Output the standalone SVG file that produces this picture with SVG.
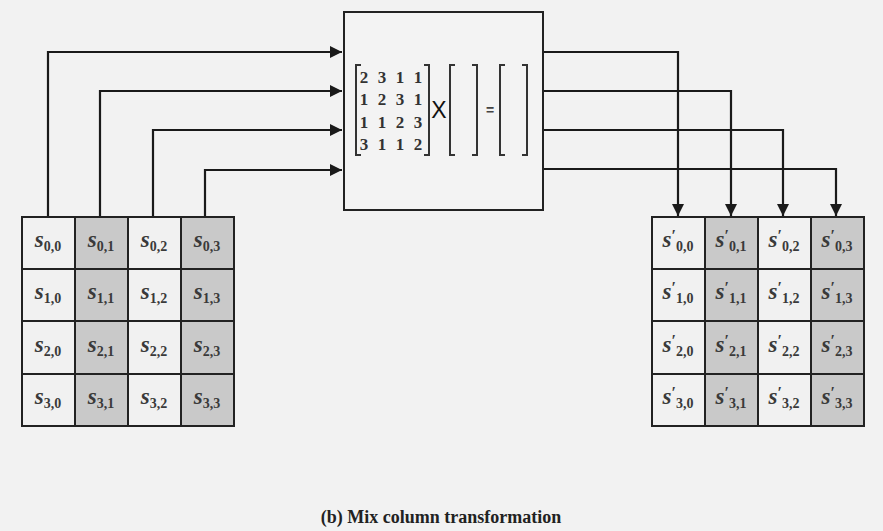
<svg xmlns="http://www.w3.org/2000/svg" width="883" height="531" viewBox="0 0 883 531">
<style>
.cw{fill:#f1f1f1;stroke:#222;stroke-width:2}
.cg{fill:#c9c9c9;stroke:#222;stroke-width:2}
.t{font-family:"Liberation Serif",serif;font-size:23px;font-weight:bold;fill:#3a3a3a;text-anchor:middle}
.s{font-style:italic}
.sub{font-size:14px;font-style:normal}
.pr{font-size:16px;font-style:normal}
.con{fill:none;stroke:#1a1a1a;stroke-width:2.2}
.num{font-family:"Liberation Serif",serif;font-size:17px;font-weight:bold;fill:#333;text-anchor:middle}
.br{fill:none;stroke:#333;stroke-width:2}
</style>
<defs>
<marker id="ah" viewBox="0 0 10 10" refX="10" refY="5" markerWidth="12" markerHeight="12" markerUnits="userSpaceOnUse" orient="auto">
<path d="M0,0 L10,5 L0,10 Z" fill="#1a1a1a"/>
</marker>
</defs>
<rect width="883" height="531" fill="#f2f2f2"/>

<g id="connectors">
<path class="con" d="M48,217 V52 H342" marker-end="url(#ah)"/>
<path class="con" d="M100,217 V91 H342" marker-end="url(#ah)"/>
<path class="con" d="M153,217 V130 H342" marker-end="url(#ah)"/>
<path class="con" d="M205,217 V170 H342" marker-end="url(#ah)"/>
<path class="con" d="M544,52 H678 V216" marker-end="url(#ah)"/>
<path class="con" d="M544,91 H731 V216" marker-end="url(#ah)"/>
<path class="con" d="M544,130 H783 V216" marker-end="url(#ah)"/>
<path class="con" d="M544,169 H836 V216" marker-end="url(#ah)"/>
</g>

<g id="mix-box">
<rect x="344" y="12" width="199" height="198" fill="#f3f3f3" stroke="#222" stroke-width="2"/>
<path class="br" d="M361,65 H356 V155 H361"/>
<path class="br" d="M424,65 H429 V155 H424"/>
<g>
<text class="num" x="364" y="83">2</text><text class="num" x="382" y="83">3</text><text class="num" x="400" y="83">1</text><text class="num" x="418" y="83">1</text>
<text class="num" x="364" y="105">1</text><text class="num" x="382" y="105">2</text><text class="num" x="400" y="105">3</text><text class="num" x="418" y="105">1</text>
<text class="num" x="364" y="128">1</text><text class="num" x="382" y="128">1</text><text class="num" x="400" y="128">2</text><text class="num" x="418" y="128">3</text>
<text class="num" x="364" y="150">3</text><text class="num" x="382" y="150">1</text><text class="num" x="400" y="150">1</text><text class="num" x="418" y="150">2</text>
</g>
<text x="439" y="118" font-family="Liberation Sans,sans-serif" font-size="23" fill="#111" text-anchor="middle">X</text>
<path class="br" d="M455,65 H450 V155 H455"/>
<path class="br" d="M472,65 H477 V155 H472"/>
<text x="490" y="115" font-family="Liberation Sans,sans-serif" font-size="14" font-weight="bold" fill="#444" text-anchor="middle">=</text>
<path class="br" d="M505,65 H500 V155 H505"/>
<path class="br" d="M522,65 H527 V155 H522"/>
</g>

<g id="state-in">
<rect class="cw" x="22" y="217" width="53" height="52"/><rect class="cg" x="75" y="217" width="53" height="52"/><rect class="cw" x="128" y="217" width="53" height="52"/><rect class="cg" x="181" y="217" width="53" height="52"/>
<rect class="cw" x="22" y="269" width="53" height="52"/><rect class="cg" x="75" y="269" width="53" height="52"/><rect class="cw" x="128" y="269" width="53" height="52"/><rect class="cg" x="181" y="269" width="53" height="52"/>
<rect class="cw" x="22" y="321" width="53" height="53"/><rect class="cg" x="75" y="321" width="53" height="53"/><rect class="cw" x="128" y="321" width="53" height="53"/><rect class="cg" x="181" y="321" width="53" height="53"/>
<rect class="cw" x="22" y="374" width="53" height="52"/><rect class="cg" x="75" y="374" width="53" height="52"/><rect class="cw" x="128" y="374" width="53" height="52"/><rect class="cg" x="181" y="374" width="53" height="52"/>
<text class="t" x="48" y="247"><tspan class="s">s</tspan><tspan class="sub" dy="4">0,0</tspan></text>
<text class="t" x="101" y="247"><tspan class="s">s</tspan><tspan class="sub" dy="4">0,1</tspan></text>
<text class="t" x="154" y="247"><tspan class="s">s</tspan><tspan class="sub" dy="4">0,2</tspan></text>
<text class="t" x="207" y="247"><tspan class="s">s</tspan><tspan class="sub" dy="4">0,3</tspan></text>
<text class="t" x="48" y="299"><tspan class="s">s</tspan><tspan class="sub" dy="4">1,0</tspan></text>
<text class="t" x="101" y="299"><tspan class="s">s</tspan><tspan class="sub" dy="4">1,1</tspan></text>
<text class="t" x="154" y="299"><tspan class="s">s</tspan><tspan class="sub" dy="4">1,2</tspan></text>
<text class="t" x="207" y="299"><tspan class="s">s</tspan><tspan class="sub" dy="4">1,3</tspan></text>
<text class="t" x="48" y="352"><tspan class="s">s</tspan><tspan class="sub" dy="4">2,0</tspan></text>
<text class="t" x="101" y="352"><tspan class="s">s</tspan><tspan class="sub" dy="4">2,1</tspan></text>
<text class="t" x="154" y="352"><tspan class="s">s</tspan><tspan class="sub" dy="4">2,2</tspan></text>
<text class="t" x="207" y="352"><tspan class="s">s</tspan><tspan class="sub" dy="4">2,3</tspan></text>
<text class="t" x="48" y="404"><tspan class="s">s</tspan><tspan class="sub" dy="4">3,0</tspan></text>
<text class="t" x="101" y="404"><tspan class="s">s</tspan><tspan class="sub" dy="4">3,1</tspan></text>
<text class="t" x="154" y="404"><tspan class="s">s</tspan><tspan class="sub" dy="4">3,2</tspan></text>
<text class="t" x="207" y="404"><tspan class="s">s</tspan><tspan class="sub" dy="4">3,3</tspan></text>
</g>

<g id="state-out">
<rect class="cw" x="652" y="217" width="53" height="52"/><rect class="cg" x="705" y="217" width="53" height="52"/><rect class="cw" x="758" y="217" width="53" height="52"/><rect class="cg" x="811" y="217" width="53" height="52"/>
<rect class="cw" x="652" y="269" width="53" height="52"/><rect class="cg" x="705" y="269" width="53" height="52"/><rect class="cw" x="758" y="269" width="53" height="52"/><rect class="cg" x="811" y="269" width="53" height="52"/>
<rect class="cw" x="652" y="321" width="53" height="53"/><rect class="cg" x="705" y="321" width="53" height="53"/><rect class="cw" x="758" y="321" width="53" height="53"/><rect class="cg" x="811" y="321" width="53" height="53"/>
<rect class="cw" x="652" y="374" width="53" height="52"/><rect class="cg" x="705" y="374" width="53" height="52"/><rect class="cw" x="758" y="374" width="53" height="52"/><rect class="cg" x="811" y="374" width="53" height="52"/>
<text class="t" x="678" y="247"><tspan class="s">s</tspan><tspan class="pr" dy="-6">′</tspan><tspan class="sub" dy="10">0,0</tspan></text>
<text class="t" x="731" y="247"><tspan class="s">s</tspan><tspan class="pr" dy="-6">′</tspan><tspan class="sub" dy="10">0,1</tspan></text>
<text class="t" x="784" y="247"><tspan class="s">s</tspan><tspan class="pr" dy="-6">′</tspan><tspan class="sub" dy="10">0,2</tspan></text>
<text class="t" x="837" y="247"><tspan class="s">s</tspan><tspan class="pr" dy="-6">′</tspan><tspan class="sub" dy="10">0,3</tspan></text>
<text class="t" x="678" y="299"><tspan class="s">s</tspan><tspan class="pr" dy="-6">′</tspan><tspan class="sub" dy="10">1,0</tspan></text>
<text class="t" x="731" y="299"><tspan class="s">s</tspan><tspan class="pr" dy="-6">′</tspan><tspan class="sub" dy="10">1,1</tspan></text>
<text class="t" x="784" y="299"><tspan class="s">s</tspan><tspan class="pr" dy="-6">′</tspan><tspan class="sub" dy="10">1,2</tspan></text>
<text class="t" x="837" y="299"><tspan class="s">s</tspan><tspan class="pr" dy="-6">′</tspan><tspan class="sub" dy="10">1,3</tspan></text>
<text class="t" x="678" y="352"><tspan class="s">s</tspan><tspan class="pr" dy="-6">′</tspan><tspan class="sub" dy="10">2,0</tspan></text>
<text class="t" x="731" y="352"><tspan class="s">s</tspan><tspan class="pr" dy="-6">′</tspan><tspan class="sub" dy="10">2,1</tspan></text>
<text class="t" x="784" y="352"><tspan class="s">s</tspan><tspan class="pr" dy="-6">′</tspan><tspan class="sub" dy="10">2,2</tspan></text>
<text class="t" x="837" y="352"><tspan class="s">s</tspan><tspan class="pr" dy="-6">′</tspan><tspan class="sub" dy="10">2,3</tspan></text>
<text class="t" x="678" y="404"><tspan class="s">s</tspan><tspan class="pr" dy="-6">′</tspan><tspan class="sub" dy="10">3,0</tspan></text>
<text class="t" x="731" y="404"><tspan class="s">s</tspan><tspan class="pr" dy="-6">′</tspan><tspan class="sub" dy="10">3,1</tspan></text>
<text class="t" x="784" y="404"><tspan class="s">s</tspan><tspan class="pr" dy="-6">′</tspan><tspan class="sub" dy="10">3,2</tspan></text>
<text class="t" x="837" y="404"><tspan class="s">s</tspan><tspan class="pr" dy="-6">′</tspan><tspan class="sub" dy="10">3,3</tspan></text>
</g>

<text id="caption" x="441" y="523" font-family="Liberation Serif,serif" font-size="18" font-weight="bold" fill="#222" text-anchor="middle">(b) Mix column transformation</text>
</svg>
